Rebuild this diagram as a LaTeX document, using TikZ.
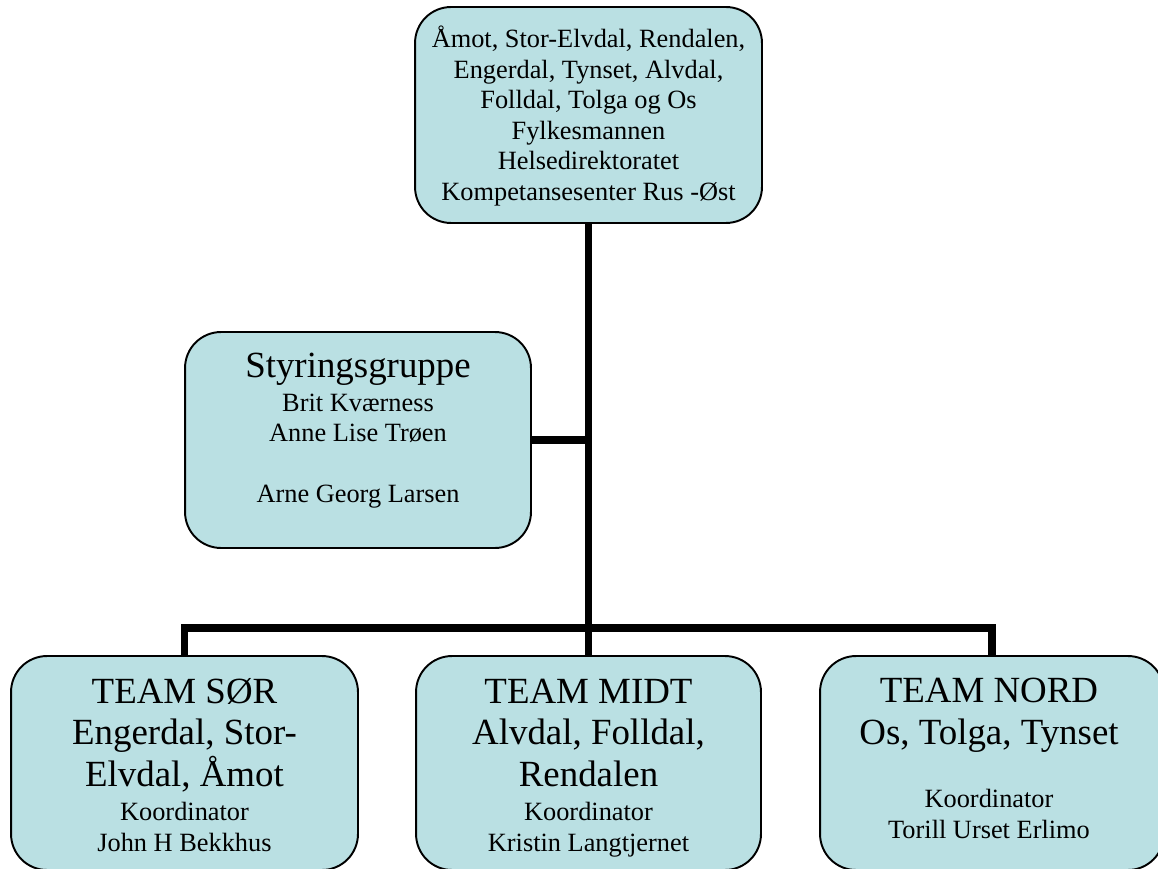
\documentclass[tikz,border=0pt]{standalone}
\usepackage[HTML]{xcolor}
\usepackage{fontspec}
\setmainfont{Liberation Serif}
\usepackage{tikz}
\usetikzlibrary{positioning}

\definecolor{boxfill}{HTML}{BAE0E3}

\begin{document}
\begin{tikzpicture}[x=0.02cm,y=-0.02cm,
  box/.style={draw=black,line width=1.1pt,fill=boxfill,rounded corners=0.72cm,inner sep=0pt},
  conn/.style={draw=black,line width=4.3pt},
  big/.style={anchor=base,align=center,inner sep=0pt,font=\fontsize{21}{23.5}\selectfont},
  small/.style={anchor=base,align=center,inner sep=0pt,font=\fontsize{15}{17.2}\selectfont}]
\useasboundingbox (0,0) rectangle (1158,868);
\clip (0,0) rectangle (1158,868);
% boxes
\node[box,minimum width=6.94cm,minimum height=4.32cm] (top) at (588.5,115) {};
\node[box,minimum width=6.92cm,minimum height=4.32cm] (styr) at (358,440) {};
\node[box,minimum width=6.94cm,minimum height=4.28cm] (sor) at (184.5,763) {};
\node[box,minimum width=6.90cm,minimum height=4.28cm] (midt) at (588.5,763) {};
\node[box,minimum width=6.88cm,minimum height=4.28cm] (nord) at (992,763) {};
% connectors
\coordinate (hub) at (588.5,628);
\draw[conn] (top.south) -- (hub);
\draw[conn] (styr.east) -- (styr.east -| top.south);
\draw[conn] (sor.north) |- (hub) -| (nord.north);
\draw[conn] (hub) -- (midt.north);
% texts (base = last line)
\node[small,font=\fontsize{15}{17.35}\selectfont] (topText) at (588.5,200) {Åmot, Stor-Elvdal, Rendalen,\\Engerdal, Tynset, Alvdal,\\Folldal, Tolga og Os\\Fylkesmannen\\Helsedirektoratet\\Kompetansesenter Rus -Øst};
\node[big] (styrHead) at (358,377) {Styringsgruppe};
\node[small] (styrText) at (358,502) {Brit Kværness\\Anne Lise Trøen\\ \\Arne Georg Larsen};
\node[big] (sorHead) at (184.5,786) {TEAM SØR\\Engerdal, Stor-\\Elvdal, Åmot};
\node[small] (sorText) at (184.5,851) {Koordinator\\John H Bekkhus};
\node[big] (midtHead) at (588.5,786) {TEAM MIDT\\Alvdal, Folldal,\\Rendalen};
\node[small] (midtText) at (588.5,851) {Koordinator\\Kristin Langtjernet};
\node[big] (nordHead) at (989,744) {TEAM NORD\\Os, Tolga, Tynset};
\node[small] (nordText) at (989,838) {Koordinator\\Torill Urset Erlimo};
\end{tikzpicture}
\end{document}
